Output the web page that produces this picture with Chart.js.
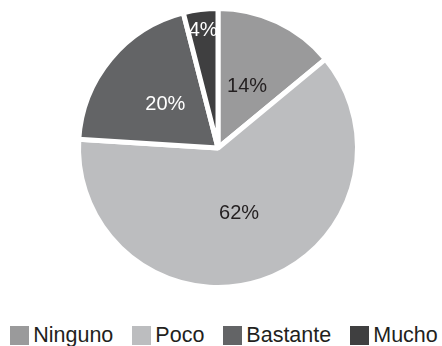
<!DOCTYPE html>
<html>
<head>
<meta charset="utf-8">
<script src="https://cdn.jsdelivr.net/npm/chart.js@4/dist/chart.umd.min.js"></script>
<style>
  body { margin: 0; background: #fff; }
  #wrap { position: relative; width: 442px; height: 346px; }
  #box { position: absolute; left: 0; top: 0; width: 442px; height: 296px; }
  #legend {
    position: absolute; left: 3px; top: 326px; width: 442px; height: 19px;
    display: flex; justify-content: center; align-items: center; gap: 19px;
    font: 21.5px "Liberation Sans", Arial, sans-serif; color: #231f20;
  }
  #legend .item { display: flex; align-items: center; line-height: 19px; white-space: nowrap; }
  #legend .sw { width: 19px; height: 19px; margin-right: 4px; }
</style>
</head>
<body>
<div id="wrap">
  <div id="box"><canvas id="pieChart"></canvas></div>
  <div id="legend"></div>
</div>
<script>
const categories = ['Ninguno', 'Poco', 'Bastante', 'Mucho'];
const values = [14, 62, 20, 4];
const colors = ['#9a9a9b', '#bcbdbf', '#636466', '#3f3f40'];
const labelColors = ['#231f20', '#231f20', '#ffffff', '#ffffff'];

// percentage text inside each slice, small slices pushed toward the rim
const sliceLabels = {
  id: 'sliceLabels',
  afterDatasetsDraw(chart) {
    const ctx = chart.ctx;
    const arcs = chart.getDatasetMeta(0).data;
    ctx.save();
    ctx.font = '20px "Liberation Sans", Arial, sans-serif';
    ctx.textAlign = 'center';
    ctx.textBaseline = 'middle';
    arcs.forEach((arc, i) => {
      const p = arc.getProps(['x', 'y', 'startAngle', 'endAngle', 'outerRadius'], true);
      const mid = (p.startAngle + p.endAngle) / 2;
      const r = p.outerRadius * (values[i] < 5 ? 0.85 : 0.49);
      ctx.fillStyle = labelColors[i];
      ctx.fillText(values[i] + '%', p.x + Math.cos(mid) * r, p.y + Math.sin(mid) * r);
    });
    ctx.restore();
  }
};

let ctx = document.getElementById('pieChart').getContext('2d');
let myPieChart = new Chart(ctx, {
  type: 'pie',
  data: {
    labels: categories,
    datasets: [{
      data: values,
      backgroundColor: colors,
      borderColor: '#ffffff',
      borderWidth: 5,
      radius: 139.5
    }]
  },
  options: {
    responsive: true,
    maintainAspectRatio: false,
    animation: false,
    layout: { padding: { left: 0, right: 6, top: 0, bottom: 0 } },
    plugins: {
      legend: { display: false },
      tooltip: { enabled: false }
    }
  },
  plugins: [sliceLabels]
});

// legend under the pie
const legend = document.getElementById('legend');
categories.forEach((name, i) => {
  const item = document.createElement('div');
  item.className = 'item';
  item.innerHTML = `<span class="sw" style="background:${colors[i]}"></span><span>${name}</span>`;
  legend.appendChild(item);
});
</script>
</body>
</html>
